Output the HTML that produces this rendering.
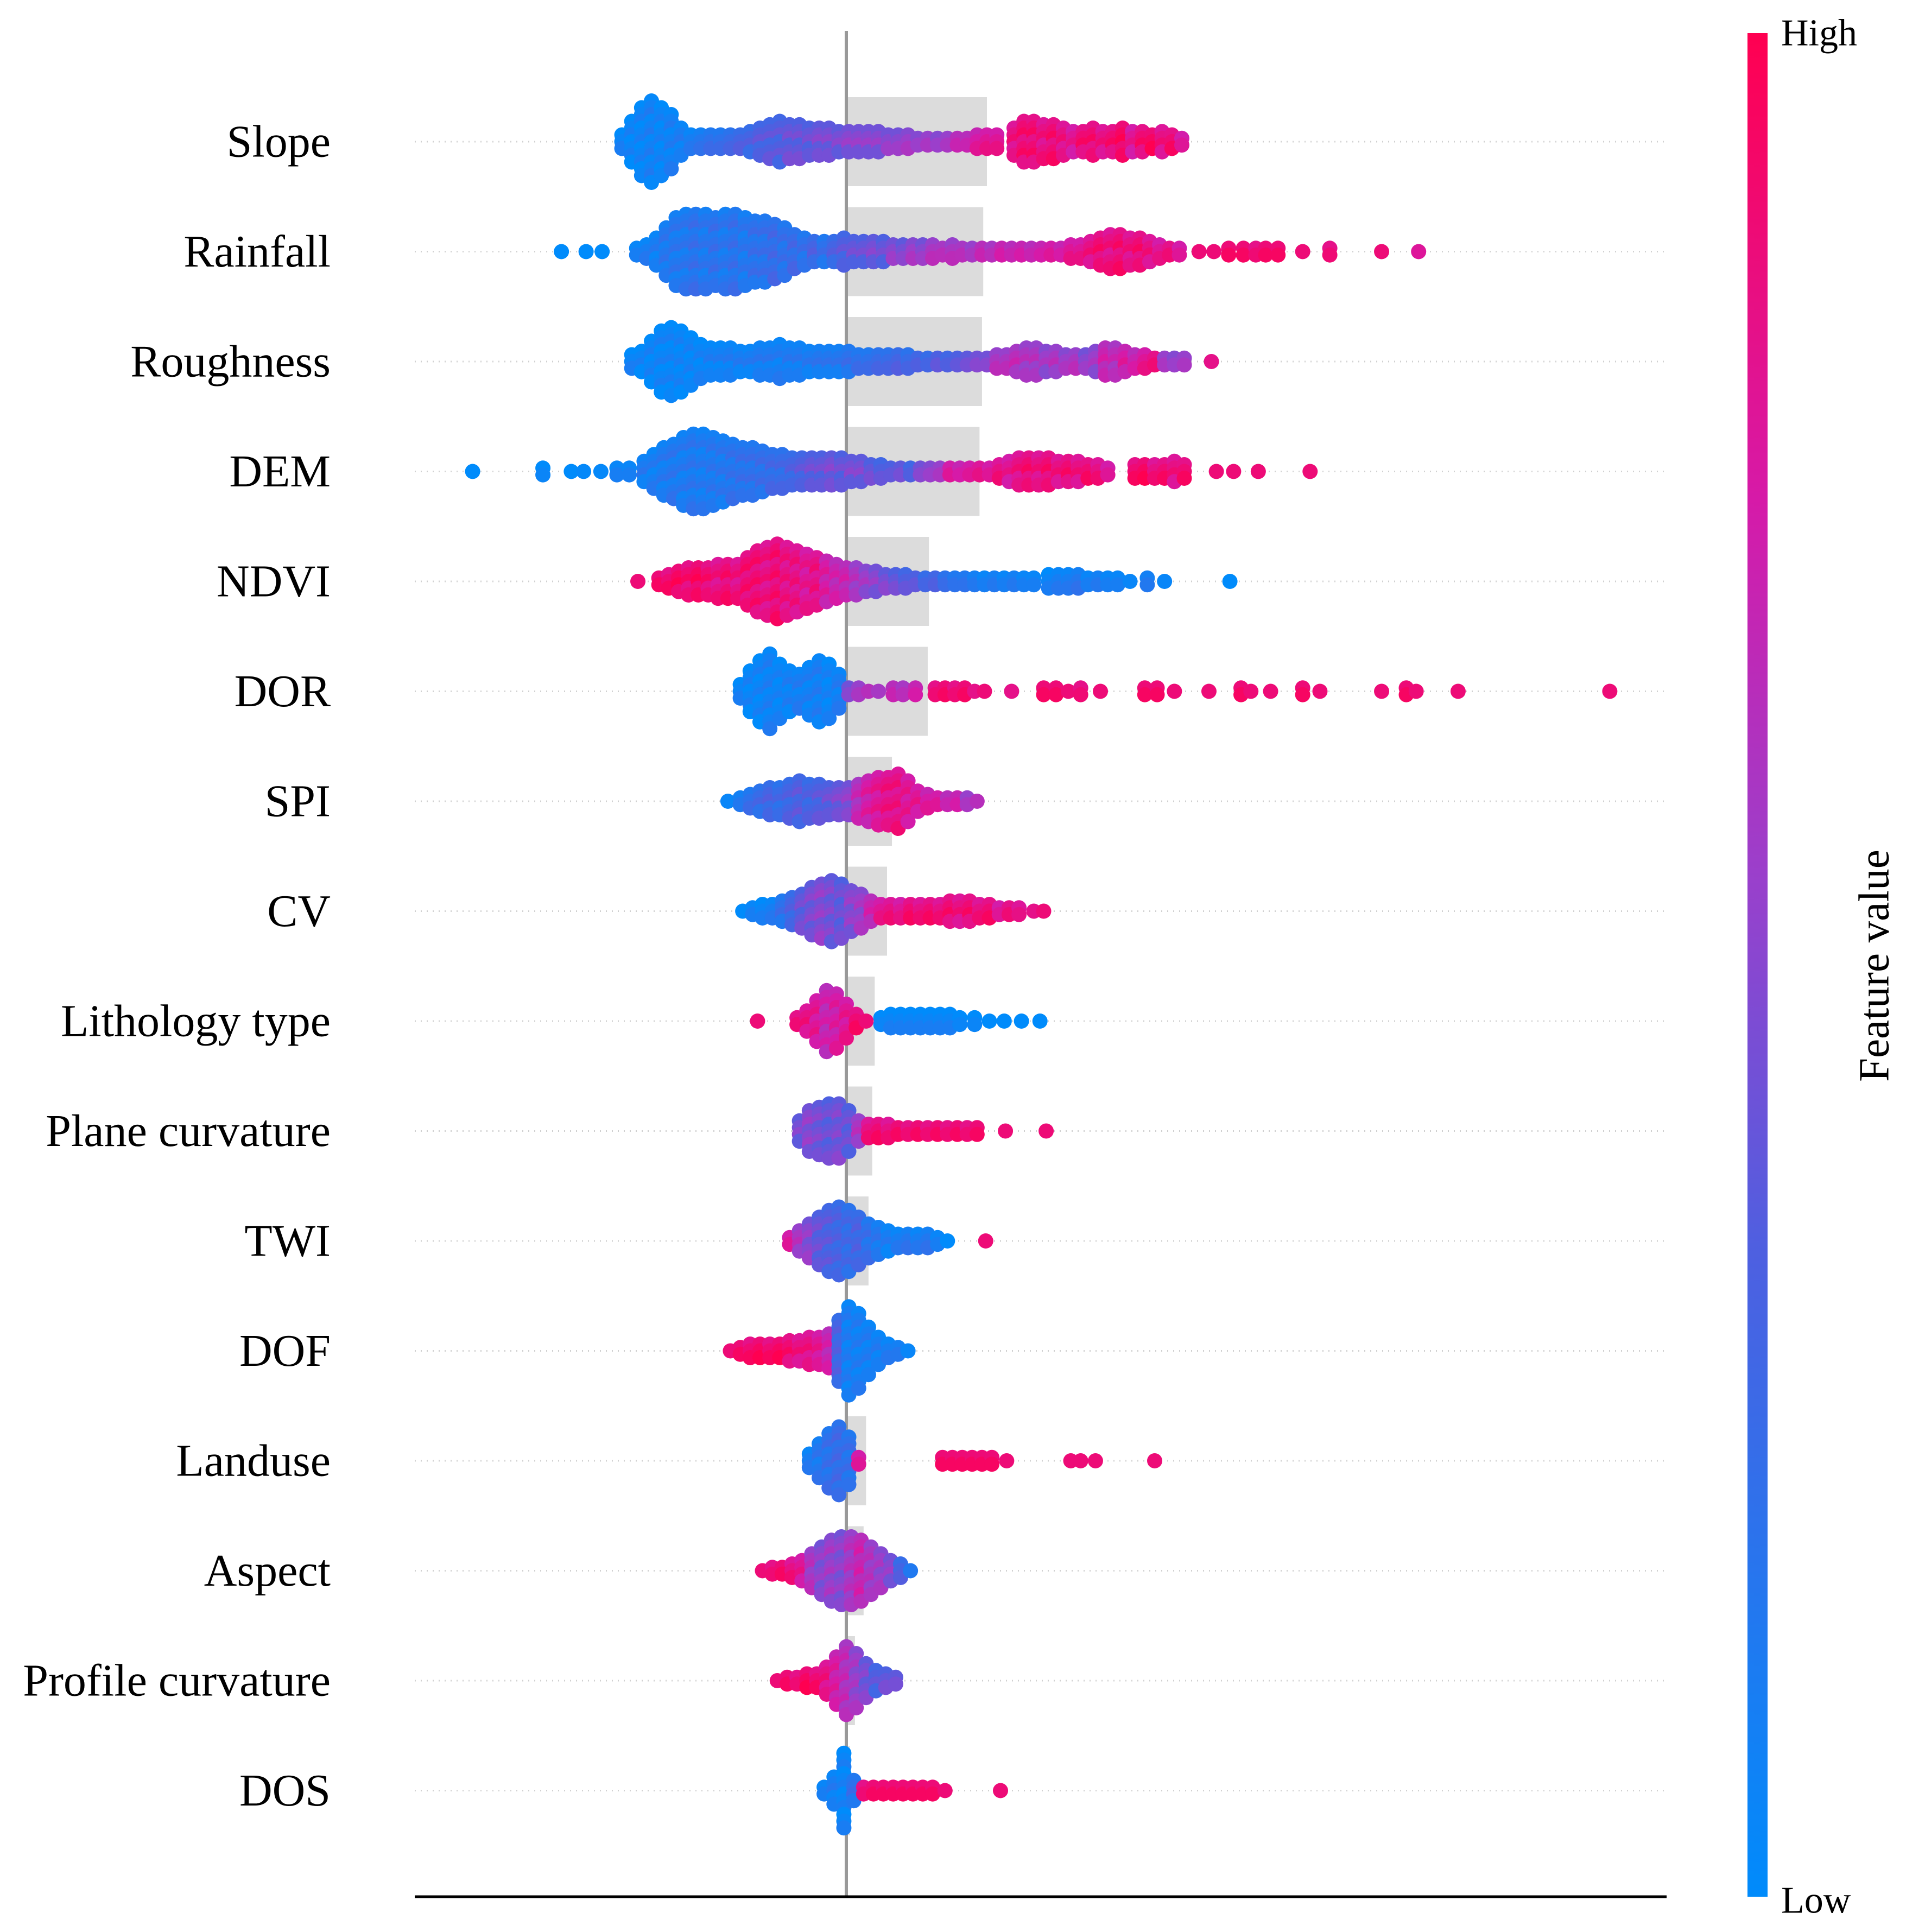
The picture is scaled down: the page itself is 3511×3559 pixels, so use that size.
<!DOCTYPE html>
<html><head><meta charset="utf-8"><style>html,body{margin:0;padding:0;background:#fff}svg{display:block}</style></head>
<body>
<svg id="chart" xmlns="http://www.w3.org/2000/svg" width="3511" height="3559" viewBox="0 0 3511 3559">
<defs>
<linearGradient id="cbar" x1="0" y1="1" x2="0" y2="0">
<stop offset="0" stop-color="#008bfb"/><stop offset="0.35" stop-color="#4f5fe0"/><stop offset="0.55" stop-color="#9b3fcb"/><stop offset="0.75" stop-color="#d61aa8"/><stop offset="1" stop-color="#ff0051"/>
</linearGradient>
</defs>
<g id="grid"></g><g id="bars"></g>
<line x1="1559" y1="57" x2="1559" y2="3494" stroke="#999" stroke-width="6"/>
<g id="dots"></g><g id="labels"></g>
<line x1="764" y1="3494" x2="3070" y2="3494" stroke="#000" stroke-width="5"/>
<rect x="3219" y="61" width="37" height="3433" fill="url(#cbar)"/>
<text x="3281" y="61" font-family="Liberation Serif, serif" font-size="70" dominant-baseline="central">High</text>
<text x="3281" y="3501" font-family="Liberation Serif, serif" font-size="70" dominant-baseline="central">Low</text>
<text x="3453" y="1779" font-family="Liberation Serif, serif" font-size="79" text-anchor="middle" dominant-baseline="central" transform="rotate(-90 3453 1779)">Feature value</text>
</svg>
<script>
const features=["Slope","Rainfall","Roughness","DEM","NDVI","DOR","SPI","CV","Lithology type","Plane curvature","TWI","DOF","Landuse","Aspect","Profile curvature","DOS"];
const meanAbs=[1.14,1.11,1.10,1.08,0.67,0.66,0.37,0.33,0.23,0.21,0.18,0.12,0.16,0.14,0.07,0.03];
const slopeX=[-1.82,-1.74,-1.66,-1.58,-1.50,-1.42,-1.34,-1.26,-1.18,-1.10,-1.02,-0.94,-0.86,-0.78,-0.70,-0.62,-0.54,-0.46,-0.38,-0.30,-0.22,-0.14,-0.06,0.02,0.10,0.18,0.26,0.34,0.42,0.50,0.58,0.66,0.74,0.82,0.90,0.98,1.06,1.14,1.22,1.36,1.44,1.52,1.60,1.68,1.76,1.84,1.92,2.00,2.08,2.16,2.24,2.32,2.40,2.48,2.56,2.64,2.72];
const slopeN=[3,7,11,13,11,9,5,3,3,3,3,3,3,4,5,6,7,6,6,5,5,5,4,4,4,4,4,3,3,3,2,2,2,2,2,2,3,3,3,5,7,7,6,6,5,4,4,5,4,4,5,4,4,3,4,3,2];
const slopeC=[.05,.05,.05,.08,.05,.08,.1,.1,.15,.2,.2,.25,.3,.3,.35,.35,.35,.4,.4,.4,.45,.45,.45,.5,.5,.5,.5,.5,.5,.55,.55,.6,.55,.6,.7,.7,.75,.8,.8,.85,.9,.9,.85,.9,.85,.8,.9,.9,.85,.9,.95,.8,.9,.95,.85,.9,.8];
const rainX=[-2.31,-2.11,-1.98,-1.70,-1.62,-1.54,-1.46,-1.38,-1.30,-1.22,-1.14,-1.06,-0.98,-0.90,-0.82,-0.74,-0.66,-0.58,-0.50,-0.42,-0.34,-0.26,-0.18,-0.10,-0.02,0.06,0.14,0.22,0.30,0.38,0.46,0.54,0.62,0.70,0.78,0.86,0.94,1.02,1.10,1.18,1.26,1.34,1.42,1.50,1.58,1.66,1.74,1.82,1.90,1.98,2.06,2.14,2.22,2.30,2.38,2.46,2.54,2.62,2.70,2.86,2.98,3.10,3.22,3.32,3.40,3.50,3.70,3.92,4.34,4.64];
const rainN=[1,1,1,2,3,5,8,11,12,12,12,11,12,12,11,10,10,9,8,6,5,4,4,4,5,4,4,4,4,3,3,3,3,3,2,3,2,2,2,2,2,2,2,2,2,2,2,3,3,4,5,6,6,5,5,4,3,2,2,1,1,2,2,2,2,2,1,2,1,1];
const rainC=[.05,.05,.05,.1,.1,.1,.15,.15,.15,.2,.15,.2,.15,.2,.15,.2,.2,.25,.2,.25,.2,.3,.2,.3,.35,.4,.4,.45,.4,.5,.45,.55,.5,.6,.65,.6,.65,.6,.7,.65,.75,.7,.75,.7,.75,.8,.75,.8,.8,.85,.9,.85,.9,.85,.9,.85,.8,.9,.8,.95,.95,.95,.95,.9,.95,.95,.95,.9,.95,.85];
const roughX=[-1.74,-1.66,-1.58,-1.50,-1.42,-1.34,-1.26,-1.18,-1.10,-1.02,-0.94,-0.86,-0.78,-0.70,-0.62,-0.54,-0.46,-0.38,-0.30,-0.22,-0.14,-0.06,0.02,0.10,0.18,0.26,0.34,0.42,0.50,0.58,0.66,0.74,0.82,0.90,0.98,1.06,1.14,1.22,1.30,1.38,1.46,1.54,1.62,1.70,1.78,1.86,1.94,2.02,2.10,2.18,2.26,2.34,2.42,2.50,2.58,2.66,2.74,2.96];
const roughN=[3,4,7,10,11,10,8,6,5,5,5,4,4,5,5,6,5,5,4,4,4,4,4,3,3,3,3,3,3,2,2,2,2,2,2,2,2,3,3,4,5,5,4,4,3,3,3,4,5,5,4,3,3,2,2,2,2,1];
const roughC=[.05,.05,.05,.05,.05,.05,.05,.05,.08,.08,.1,.1,.1,.12,.12,.1,.12,.12,.12,.15,.15,.15,.2,.2,.2,.25,.25,.3,.25,.35,.3,.4,.35,.4,.45,.5,.5,.6,.6,.65,.6,.6,.55,.6,.55,.6,.5,.55,.7,.65,.75,.7,.8,.9,.6,.55,.6,.9];
const demX=[-3.03,-2.46,-2.23,-2.13,-1.99,-1.86,-1.76,-1.64,-1.56,-1.48,-1.40,-1.32,-1.24,-1.16,-1.08,-1.00,-0.92,-0.84,-0.76,-0.68,-0.60,-0.52,-0.44,-0.36,-0.28,-0.20,-0.12,-0.04,0.04,0.12,0.20,0.28,0.36,0.44,0.52,0.60,0.68,0.76,0.84,0.92,1.00,1.08,1.16,1.24,1.32,1.40,1.48,1.56,1.64,1.72,1.80,1.88,1.96,2.04,2.12,2.34,2.42,2.50,2.58,2.66,2.74,3.00,3.14,3.34,3.76];
const demN=[1,2,1,1,1,2,2,4,6,8,9,11,12,12,11,10,9,8,8,7,6,6,5,5,5,5,5,5,4,4,3,3,2,2,2,2,2,2,2,2,2,2,2,3,4,5,5,5,5,4,4,4,3,3,2,3,3,3,3,4,3,1,1,1,1];
const demC=[.02,.05,.05,.08,.08,.1,.1,.12,.1,.12,.15,.12,.15,.12,.15,.15,.18,.2,.2,.22,.25,.25,.3,.35,.4,.4,.45,.4,.45,.45,.4,.35,.4,.45,.35,.5,.55,.6,.8,.75,.8,.85,.8,.85,.8,.85,.9,.85,.9,.85,.9,.85,.9,.85,.8,.9,.95,.85,.9,.85,.9,.95,.95,.95,.95];
const ndviX=[-1.69,-1.52,-1.44,-1.36,-1.28,-1.20,-1.12,-1.04,-0.96,-0.88,-0.80,-0.72,-0.64,-0.56,-0.48,-0.40,-0.32,-0.24,-0.16,-0.08,0.00,0.08,0.16,0.24,0.32,0.40,0.48,0.56,0.64,0.72,0.80,0.88,0.96,1.04,1.12,1.20,1.28,1.36,1.44,1.52,1.64,1.72,1.80,1.88,1.96,2.04,2.12,2.20,2.30,2.44,2.58,3.11];
const ndviN=[1,2,3,4,5,5,5,6,6,6,8,10,11,12,11,10,9,8,7,6,5,5,4,4,3,3,3,2,2,2,2,2,2,2,2,2,2,2,2,2,3,3,3,3,2,2,2,2,1,2,1,1];
const ndviC=[.95,.95,.9,.95,.9,.95,.9,.85,.9,.85,.9,.9,.85,.9,.85,.85,.8,.85,.75,.7,.7,.6,.55,.5,.45,.4,.35,.4,.3,.35,.25,.2,.2,.15,.1,.15,.1,.15,.1,.1,.05,.1,.1,.15,.1,.15,.1,.1,.1,.15,.1,.05];
const dorX=[-0.86,-0.78,-0.70,-0.62,-0.54,-0.46,-0.38,-0.30,-0.22,-0.14,-0.06,0.02,0.10,0.18,0.26,0.38,0.46,0.56,0.72,0.80,0.88,0.96,1.04,1.12,1.34,1.60,1.70,1.80,1.90,2.06,2.42,2.52,2.66,2.94,3.20,3.28,3.44,3.70,3.84,4.34,4.54,4.62,4.96,6.19];
const dorN=[3,7,10,12,9,7,6,8,10,9,6,2,2,1,1,2,2,2,2,2,2,2,1,1,1,2,2,1,2,1,2,2,1,1,2,1,1,2,1,1,2,1,1,1];
const dorC=[.05,.05,.05,.08,.05,.08,.1,.08,.1,.05,.1,.5,.6,.7,.65,.7,.65,.75,.9,.95,.9,.95,.9,.95,.9,.95,.95,.95,.9,.95,.95,.95,.95,.95,.95,.95,.95,.95,.95,.95,.95,.95,.95,.95];
const spiX=[-0.96,-0.86,-0.78,-0.70,-0.62,-0.54,-0.46,-0.38,-0.30,-0.22,-0.14,-0.06,0.02,0.10,0.18,0.26,0.34,0.42,0.50,0.58,0.66,0.74,0.82,0.90,0.98,1.06];
const spiN=[1,2,3,4,5,5,6,7,6,6,5,5,5,6,7,8,8,9,7,4,3,2,2,2,2,1];
const spiC=[.1,.15,.2,.25,.3,.25,.3,.35,.3,.35,.4,.45,.5,.65,.75,.8,.85,.85,.8,.8,.75,.8,.7,.75,.6,.7];
const cvX=[-0.84,-0.76,-0.68,-0.60,-0.52,-0.44,-0.36,-0.28,-0.20,-0.12,-0.04,0.04,0.12,0.20,0.28,0.36,0.44,0.52,0.60,0.68,0.76,0.84,0.92,1.00,1.08,1.16,1.24,1.32,1.40,1.52,1.60];
const cvN=[1,2,3,3,4,5,6,8,9,10,9,7,6,4,3,3,3,3,3,3,3,4,4,4,3,3,2,2,2,1,1];
const cvC=[.05,.1,.05,.1,.2,.3,.4,.45,.5,.45,.4,.5,.55,.7,.8,.85,.8,.9,.85,.9,.85,.9,.85,.9,.85,.9,.8,.9,.85,.9,.95];
const lithX=[-0.72,-0.40,-0.32,-0.24,-0.16,-0.08,0.00,0.08,0.16,0.28,0.36,0.44,0.52,0.60,0.68,0.76,0.84,0.92,1.04,1.16,1.28,1.42,1.57];
const lithN=[1,2,4,7,10,9,6,3,1,2,3,3,3,3,3,3,3,2,2,1,1,1,1];
const lithC=[.95,.9,.85,.8,.7,.75,.8,.9,.95,.05,.05,.05,.05,.05,.05,.05,.05,.05,.05,.05,.05,.05,.05];
const planeX=[-0.38,-0.30,-0.22,-0.14,-0.06,0.02,0.10,0.18,0.26,0.34,0.42,0.50,0.58,0.66,0.74,0.82,0.90,0.98,1.06,1.29,1.62];
const planeN=[4,7,8,9,9,7,4,3,3,3,2,2,2,2,2,2,2,2,2,1,1];
const planeC=[.45,.5,.45,.4,.45,.4,.6,.85,.9,.85,.95,.9,.95,.9,.95,.9,.95,.9,.95,.95,.95];
const twiX=[-0.46,-0.38,-0.30,-0.22,-0.14,-0.06,0.02,0.10,0.18,0.26,0.34,0.42,0.50,0.58,0.66,0.74,0.82,1.13];
const twiN=[2,4,6,8,10,11,10,8,6,5,4,3,3,3,3,2,1,1];
const twiC=[.8,.6,.5,.4,.35,.3,.25,.3,.2,.15,.1,.1,.15,.1,.15,.1,.05,.95];
const dofX=[-0.94,-0.86,-0.78,-0.70,-0.62,-0.54,-0.46,-0.38,-0.30,-0.22,-0.14,-0.06,0.02,0.10,0.18,0.26,0.34,0.42,0.50];
const dofN=[1,2,3,3,3,3,4,4,5,5,6,10,14,12,8,5,3,2,1];
const dofC=[.95,.95,.9,.95,.9,.95,.9,.85,.85,.8,.7,.3,.1,.1,.1,.1,.1,.15,.1];
const landX=[-0.30,-0.22,-0.14,-0.06,0.02,0.10,0.78,0.86,0.94,1.02,1.10,1.18,1.30,1.82,1.90,2.02,2.50];
const landN=[3,6,9,11,8,2,2,2,2,2,2,2,1,1,1,1,1];
const landC=[.1,.15,.2,.25,.2,.8,.95,.95,.95,.95,.95,.95,.95,.95,.95,.95,.95];
const aspectX=[-0.68,-0.60,-0.52,-0.44,-0.36,-0.28,-0.20,-0.12,-0.04,0.04,0.12,0.20,0.28,0.36,0.44,0.52];
const aspectN=[1,2,2,3,4,6,8,10,11,11,10,8,6,4,3,1];
const aspectC=[.95,.9,.95,.85,.8,.6,.5,.55,.5,.6,.7,.6,.55,.5,.3,.2];
const profX=[-0.56,-0.48,-0.40,-0.32,-0.24,-0.16,-0.08,0.00,0.08,0.16,0.24,0.32,0.40];
const profN=[1,2,2,3,3,5,8,11,9,6,4,3,2];
const profC=[.95,.95,.9,.95,.9,.85,.75,.65,.55,.45,.35,.4,.45];
const dosX=[-0.18,-0.10,-0.02,0.06,0.14,0.22,0.30,0.38,0.46,0.54,0.62,0.70,0.80,1.25];
const dosN=[2,5,12,4,2,2,2,2,2,2,2,2,1,1];
const dosC=[.1,.1,.05,.2,.9,.95,.95,.95,.95,.95,.95,.95,.95,.95];
const seriesX=[slopeX,rainX,roughX,demX,ndviX,dorX,spiX,cvX,lithX,planeX,twiX,dofX,landX,aspectX,profX,dosX];
const seriesN=[slopeN,rainN,roughN,demN,ndviN,dorN,spiN,cvN,lithN,planeN,twiN,dofN,landN,aspectN,profN,dosN];
const seriesC=[slopeC,rainC,roughC,demC,ndviC,dorC,spiC,cvC,lithC,planeC,twiC,dofC,landC,aspectC,profC,dosC];

const NS="http://www.w3.org/2000/svg";
const X0=1559, PXU=227.2, ROW0=261, ROWH=202.5;
function xs(v){return X0+v*PXU;}
function ys(i){return ROW0+i*ROWH;}
const stops=[[0,[0,139,251]],[0.35,[79,95,224]],[0.55,[155,63,203]],[0.75,[214,26,168]],[1,[255,0,81]]];
function col(t){t=Math.max(0,Math.min(1,t));for(let i=1;i<stops.length;i++){if(t<=stops[i][0]){const a=stops[i-1],b=stops[i],f=(t-a[0])/(b[0]-a[0]);const c=a[1].map((v,k)=>Math.round(v+(b[1][k]-v)*f));return `rgb(${c[0]},${c[1]},${c[2]})`;}}return "rgb(255,0,81)";}
function mk(tag,attrs,parent){const e=document.createElementNS(NS,tag);for(const k in attrs)e.setAttribute(k,attrs[k]);parent.appendChild(e);return e;}
const gGrid=document.getElementById('grid'),gBars=document.getElementById('bars'),gDots=document.getElementById('dots'),gLab=document.getElementById('labels');
features.forEach((f,i)=>{
  const y=ys(i);
  const gl=mk('line',{x1:764,x2:3070,y1:y,y2:y,stroke:'#d0d0d0','stroke-width':3,'stroke-dasharray':'2 9'},gGrid);
  
  
  const b=mk('rect',{x:X0,y:y-82,width:Math.max(0,xs(meanAbs[i])-X0),height:164,fill:'#dcdcdc'},gBars);
  
  
  const t=mk('text',{x:609,y:y,'font-family':'Liberation Serif, serif','font-size':84,'text-anchor':'end','dominant-baseline':'central'},gLab);
  t.textContent=f;
  
  
  const X=seriesX[i],N=seriesN[i],C=seriesC[i],STEP=12.5;
  X.forEach((v,j)=>{
    const n=N[j];
    for(let k=0;k<n;k++){
      const off=(k-(n-1)/2)*STEP;
      const cc=C[j]+((k%3)-1)*0.06;
      const d=mk('circle',{cx:xs(v),cy:y+off,r:14,fill:col(cc)},gDots);
      
      
    }
  });
});
</script>
</body></html>
